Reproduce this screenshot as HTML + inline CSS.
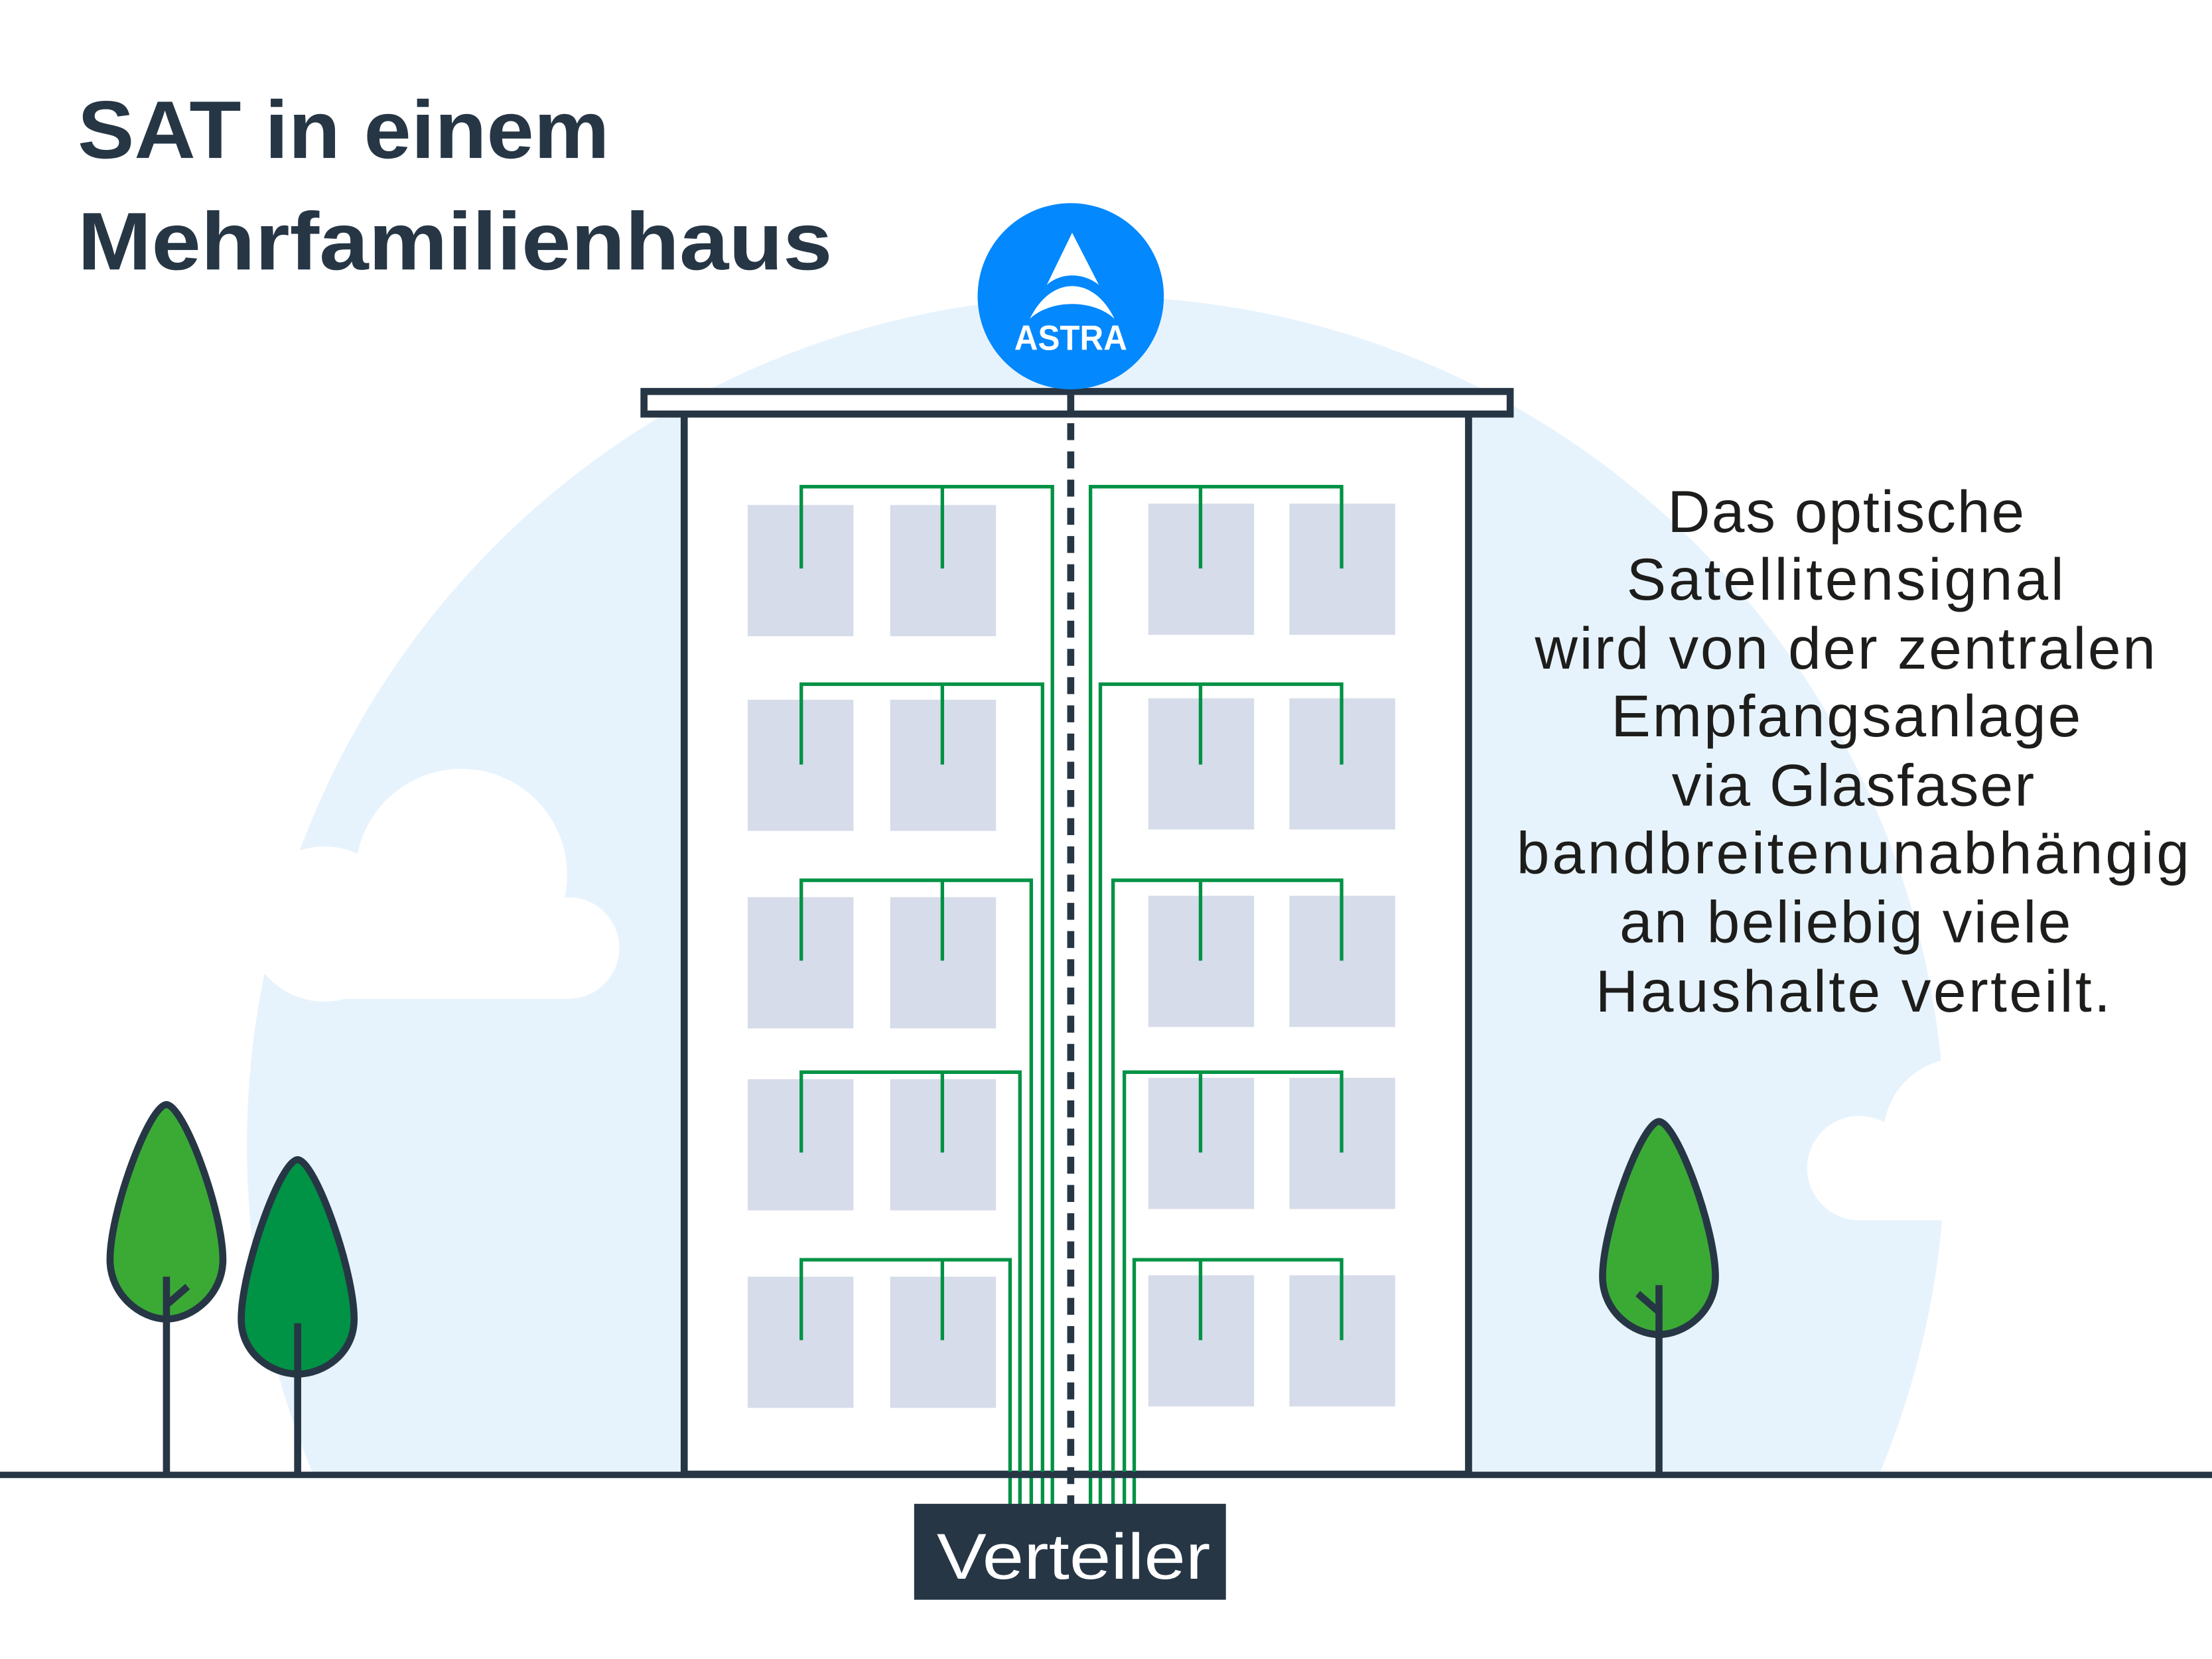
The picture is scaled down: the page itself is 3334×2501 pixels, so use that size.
<!DOCTYPE html>
<html><head><meta charset="utf-8"><style>html,body{margin:0;padding:0;background:#fff;width:3334px;height:2501px;overflow:hidden}svg{display:block}</style></head>
<body>
<svg width="3334" height="2501" viewBox="0 0 1568 1176" preserveAspectRatio="none" xmlns="http://www.w3.org/2000/svg">
<defs><clipPath id="cg"><rect x="0" y="0" width="1568" height="1045"/></clipPath></defs>
<rect width="1568" height="1176" fill="#fff"/>
<circle cx="777" cy="812" r="602" fill="#e7f3fc" clip-path="url(#cg)"/>
<g fill="#fff">
<circle cx="327" cy="620" r="75"/>
<circle cx="230" cy="655" r="55"/>
<circle cx="403" cy="672" r="36"/>
<rect x="228" y="640" width="175" height="68"/>
<circle cx="1390" cy="805" r="55"/>
<circle cx="1318" cy="828" r="37"/>
<rect x="1318" y="810" width="120" height="55"/>
</g>
<rect x="485" y="293" width="556" height="752" fill="#fff" stroke="#263645" stroke-width="5"/>
<rect x="456.5" y="277.5" width="614" height="16" fill="#fff" stroke="#263645" stroke-width="5"/>
<g fill="#d6dcea">
<rect x="530" y="358" width="75" height="93"/><rect x="631" y="358" width="75" height="93"/><rect x="814" y="357" width="75" height="93"/><rect x="914" y="357" width="75" height="93"/>
<rect x="530" y="496" width="75" height="93"/><rect x="631" y="496" width="75" height="93"/><rect x="814" y="495" width="75" height="93"/><rect x="914" y="495" width="75" height="93"/>
<rect x="530" y="636" width="75" height="93"/><rect x="631" y="636" width="75" height="93"/><rect x="814" y="635" width="75" height="93"/><rect x="914" y="635" width="75" height="93"/>
<rect x="530" y="765" width="75" height="93"/><rect x="631" y="765" width="75" height="93"/><rect x="814" y="764" width="75" height="93"/><rect x="914" y="764" width="75" height="93"/>
<rect x="530" y="905" width="75" height="93"/><rect x="631" y="905" width="75" height="93"/><rect x="814" y="904" width="75" height="93"/><rect x="914" y="904" width="75" height="93"/>
</g>
<line x1="759" y1="280" x2="759" y2="1066" stroke="#263645" stroke-width="5" stroke-dasharray="12 8"/>
<g fill="none" stroke="#009245" stroke-width="2.5">
<path d="M568 403V345H746V1066M668 345V403M773 1066V345H951V403M851 345V403"/>
<path d="M568 542V485H739V1066M668 485V542M780 1066V485H951V542M851 485V542"/>
<path d="M568 681V624H731V1066M668 624V681M789 1066V624H951V681M851 624V681"/>
<path d="M568 817V760H723V1066M668 760V817M797 1066V760H951V817M851 760V817"/>
<path d="M568 950V893H716V1066M668 893V950M804 1066V893H951V950M851 893V950"/>
</g>
<line x1="0" y1="1045.5" x2="1568" y2="1045.5" stroke="#263645" stroke-width="4.5"/>
<rect x="648" y="1066" width="221" height="68" fill="#263645"/>
<text x="761" y="1119" text-anchor="middle" font-family="Liberation Sans, sans-serif" font-size="46" fill="#fff" textLength="194" lengthAdjust="spacingAndGlyphs">Verteiler</text>
<g stroke="#263645" stroke-width="5">
<path d="M118 783C106 783 78 858 78 893C78 918 100 935 118 935C136 935 158 918 158 893C158 858 130 783 118 783Z" fill="#3aaa35"/>
<path d="M118 905V1045M118 925L133 912" fill="none"/>
<path d="M211 822C199 822 171 900 171 935C171 960 193 974 211 974C229 974 251 960 251 935C251 900 223 822 211 822Z" fill="#009245"/>
<path d="M211 938V1045" fill="none"/>
<path d="M1176 795C1164 795 1136 870 1136 905C1136 930 1158 946 1176 946C1194 946 1216 930 1216 905C1216 870 1188 795 1176 795Z" fill="#3aaa35"/>
<path d="M1176 911V1045M1176 930L1161 917" fill="none"/>
</g>
<circle cx="759" cy="210" r="66" fill="#0488fe"/>
<path d="M760 165L742 202C752 193 768 193 779 202Z" fill="#fff"/>
<path d="M730 226C745 195 775 195 790 226C775 212 745 212 730 226Z" fill="#fff"/>
<text x="759" y="248" text-anchor="middle" font-family="Liberation Sans, sans-serif" font-weight="bold" font-size="25" fill="#fff" textLength="80" lengthAdjust="spacingAndGlyphs">ASTRA</text>
<g font-family="Liberation Sans, sans-serif" font-weight="bold" fill="#263645" font-size="58">
<text x="55" y="112" textLength="377" lengthAdjust="spacingAndGlyphs">SAT in einem</text>
<text x="55" y="191" textLength="535" lengthAdjust="spacingAndGlyphs">Mehrfamilienhaus</text>
</g>
<g font-family="Liberation Sans, sans-serif" fill="#1d1d1b" font-size="42" lengthAdjust="spacingAndGlyphs">
<text x="1182" y="377" textLength="253">Das optische</text>
<text x="1153" y="425" textLength="310">Satellitensignal</text>
<text x="1088" y="474" textLength="440">wird von der zentralen</text>
<text x="1142" y="522" textLength="333">Empfangsanlage</text>
<text x="1185" y="571" textLength="257">via Glasfaser</text>
<text x="1075" y="619" textLength="477">bandbreitenunabhängig</text>
<text x="1148" y="668" textLength="320">an beliebig viele</text>
<text x="1131" y="717" textLength="365">Haushalte verteilt.</text>
</g>
</svg>
</body></html>
